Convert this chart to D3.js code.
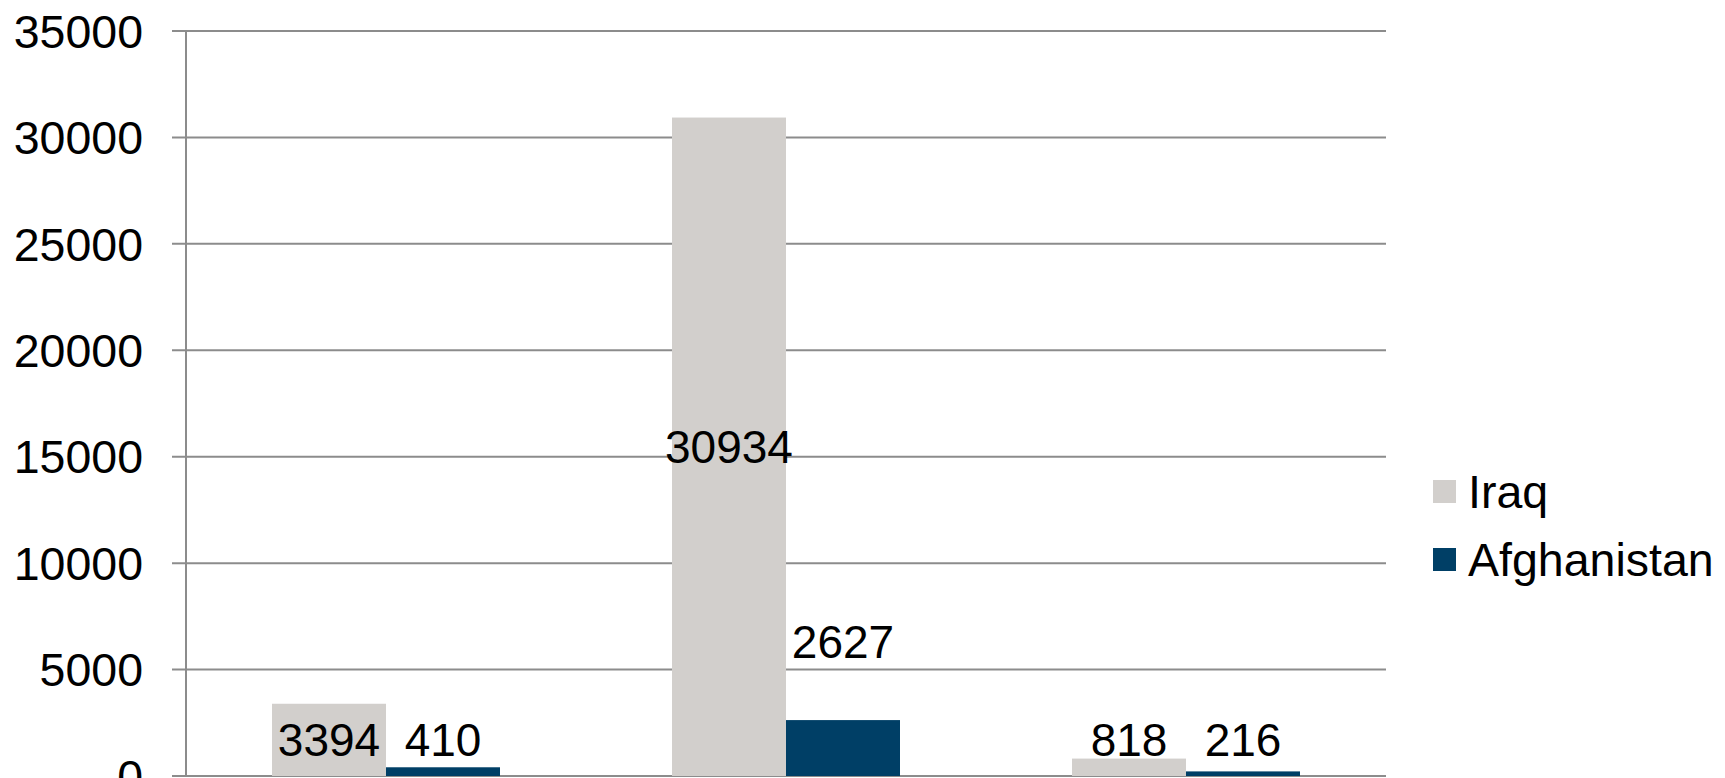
<!DOCTYPE html>
<html>
<head>
<meta charset="utf-8">
<script src="https://cdn.jsdelivr.net/npm/d3@7"></script>
<style>
  html, body { margin: 0; padding: 0; background: #fff; overflow: hidden; }
  svg { display: block; }
  text { font-family: "Liberation Sans", Arial, sans-serif; fill: #000; }
</style>
</head>
<body>
<svg id="chart" width="1725" height="778"></svg>
<script>
// Data (category names are below the visible area of the reference)
const categories = ["Killed in Action", "Wounded in Action", "Non-Hostile Deaths"];
const seriesNames = ["Iraq", "Afghanistan"];
const iraqValues = [3394, 30934, 818];
const afghanistanValues = [410, 2627, 216];
const yTicks = [0, 5000, 10000, 15000, 20000, 25000, 30000, 35000];
const colors = ["#d2cfcc", "#003f66"];

(function () {
const svg = d3.select("#chart");
const plotLeft = 186, plotRight = 1386, plotTop = 31, plotBottom = 776;

const x = d3.scaleBand().domain(categories).range([plotLeft, plotRight])
  .paddingInner(0.43).paddingOuter(0.215);
const xs = d3.scaleBand().domain(seriesNames).range([0, x.bandwidth()]);
const y = d3.scaleLinear().domain([0, 35000]).range([plotBottom, plotTop]);

// Gridlines
svg.append("g").selectAll("line").data(yTicks).join("line")
  .attr("x1", plotLeft - 14).attr("x2", plotRight)
  .attr("y1", d => y(d)).attr("y2", d => y(d))
  .attr("stroke", "#8c8c8c").attr("stroke-width", 2);

// Y axis line
svg.append("line").attr("x1", plotLeft).attr("x2", plotLeft)
  .attr("y1", plotTop).attr("y2", plotBottom)
  .attr("stroke", "#8c8c8c").attr("stroke-width", 2);

// Y tick labels
svg.append("g").selectAll("text").data(yTicks).join("text")
  .attr("x", 143).attr("y", d => y(d))
  .attr("dy", "0.36em")
  .attr("text-anchor", "end")
  .attr("font-size", 46.5)
  .text(d => d);

// Bars
const rows = [];
categories.forEach((c, i) => {
  rows.push({cat: c, s: "Iraq", si: 0, v: iraqValues[i]});
  rows.push({cat: c, s: "Afghanistan", si: 1, v: afghanistanValues[i]});
});

svg.append("g").selectAll("rect").data(rows).join("rect")
  .attr("x", d => x(d.cat) + xs(d.s))
  .attr("width", xs.bandwidth())
  .attr("y", d => y(d.v))
  .attr("height", d => y(0) - y(d.v))
  .attr("fill", d => colors[d.si]);

// Data labels
function labelY(d) {
  if (d.si === 0) return Math.min(y(d.v / 2), y(1740));
  return d.v > 1000 ? y(d.v) - 79 : y(1740);
}
svg.append("g").selectAll("text").data(rows).join("text")
  .attr("x", d => x(d.cat) + xs(d.s) + xs.bandwidth() / 2)
  .attr("y", d => labelY(d))
  .attr("dy", "0.36em")
  .attr("text-anchor", "middle")
  .attr("font-size", 46)
  .text(d => d.v);

// Legend
const legend = svg.append("g").selectAll("g").data(seriesNames).join("g")
  .attr("transform", (d, i) => `translate(1433, ${480 + i * 68})`);
legend.append("rect").attr("width", 23).attr("height", 23)
  .attr("fill", (d, i) => colors[i]);
legend.append("text").attr("x", 35).attr("y", 11.5)
  .attr("dy", "0.36em").attr("font-size", 46.5)
  .text(d => d);
})();
</script>
</body>
</html>
